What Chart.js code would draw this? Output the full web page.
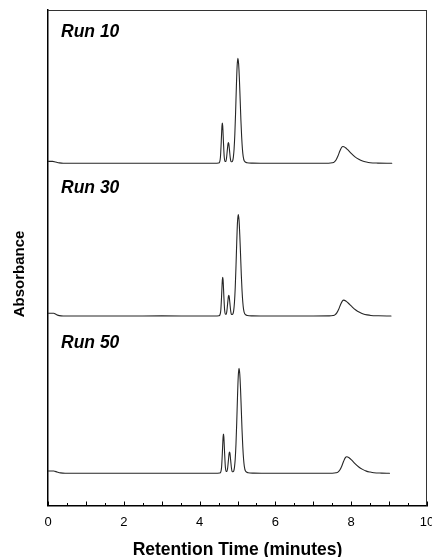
<!DOCTYPE html>
<html>
<head>
<meta charset="utf-8">
<script src="https://cdn.jsdelivr.net/npm/chart.js@4/dist/chart.umd.min.js"></script>
<style>
  html, body { margin: 0; padding: 0; background: #fff; }
  #wrap { width: 432px; height: 557px; }
</style>
</head>
<body>
<div id="wrap"><canvas id="c" width="432" height="557"></canvas></div>
<script>
// ---- data ----
const runLabels = ['Run 10', 'Run 30', 'Run 50'];
const xTickLabels = ['0', '2', '4', '6', '8', '10'];
const runBaselines = [69.06, 38.24, 6.5];   // baseline absorbance level of each stacked trace (arb. units)

const run10Times = [0, 0.12, 0.2, 0.3, 0.4, 1, 2, 3, 4, 4.4, 4.5, 4.53, 4.55, 4.57, 4.59, 4.60, 4.61, 4.63, 4.65, 4.67, 4.69, 4.71, 4.73, 4.75, 4.76, 4.77, 4.79, 4.81, 4.83, 4.85, 4.87, 4.89, 4.91, 4.93, 4.95, 4.97, 4.99, 5.01, 5.03, 5.05, 5.07, 5.09, 5.11, 5.13, 5.15, 5.18, 5.25, 5.4, 5.6, 6, 7, 7.4, 7.5, 7.55, 7.6, 7.65, 7.7, 7.75, 7.78, 7.85, 7.9, 8.0, 8.1, 8.2, 8.3, 8.4, 8.5, 8.7, 9.07];
const run10Values = [0.4, 0.4, 0.25, 0.08, 0, 0, 0.02, 0, 0, 0, 0.05, 0.3, 1.27, 4.16, 7.52, 8.1, 7.52, 4.16, 1.27, 0.4, 0.35, 1.05, 2.55, 3.97, 4.2, 3.97, 2.55, 1.05, 0.35, 0.3, 0.45, 1.19, 2.87, 5.9, 10.3, 15.4, 19.6, 21.2, 20.05, 17.0, 12.9, 8.7, 5.3, 2.87, 1.4, 0.45, 0.12, 0.03, 0, 0, 0, 0.02, 0.1, 0.24, 0.67, 1.46, 2.47, 3.25, 3.4, 3.15, 2.8, 2.0, 1.3, 0.8, 0.45, 0.25, 0.12, 0.04, 0];

const run30Times = [0, 0.15, 0.22, 0.3, 0.4, 1, 2, 3, 4, 4.4, 4.51, 4.54, 4.56, 4.58, 4.60, 4.61, 4.62, 4.64, 4.66, 4.68, 4.70, 4.72, 4.74, 4.76, 4.77, 4.78, 4.80, 4.82, 4.84, 4.86, 4.88, 4.90, 4.92, 4.94, 4.96, 4.98, 5.00, 5.02, 5.04, 5.06, 5.08, 5.10, 5.12, 5.14, 5.16, 5.19, 5.26, 5.4, 5.6, 6, 7, 7.42, 7.52, 7.57, 7.62, 7.67, 7.72, 7.77, 7.80, 7.87, 7.92, 8.02, 8.12, 8.22, 8.32, 8.42, 8.52, 8.72, 9.05];
const run30Values = [0.55, 0.55, 0.3, 0.08, 0, 0, 0, 0.02, 0, 0, 0.05, 0.3, 1.22, 4.0, 7.24, 7.8, 7.24, 4.0, 1.22, 0.4, 0.35, 1.05, 2.55, 3.97, 4.2, 3.97, 2.55, 1.05, 0.35, 0.3, 0.45, 1.15, 2.78, 5.7, 10.0, 14.9, 19.0, 20.5, 19.4, 16.4, 12.5, 8.4, 5.1, 2.78, 1.35, 0.45, 0.12, 0.03, 0, 0, 0, 0.02, 0.1, 0.23, 0.63, 1.37, 2.32, 3.05, 3.2, 2.96, 2.63, 1.88, 1.22, 0.75, 0.42, 0.23, 0.11, 0.04, 0];

const run50Times = [0, 0.15, 0.24, 0.33, 0.45, 1, 2, 3, 4, 4.4, 4.53, 4.56, 4.58, 4.60, 4.62, 4.63, 4.64, 4.66, 4.68, 4.70, 4.72, 4.74, 4.76, 4.78, 4.79, 4.80, 4.82, 4.84, 4.86, 4.88, 4.90, 4.92, 4.94, 4.96, 4.98, 5.00, 5.02, 5.04, 5.06, 5.08, 5.10, 5.12, 5.14, 5.16, 5.18, 5.21, 5.28, 5.43, 5.63, 6, 7, 7.5, 7.6, 7.65, 7.7, 7.75, 7.8, 7.85, 7.88, 7.95, 8.0, 8.1, 8.2, 8.3, 8.4, 8.5, 8.6, 8.8, 9.01];
const run50Values = [0.45, 0.45, 0.25, 0.08, 0, 0, 0, 0, 0, 0, 0.05, 0.3, 1.24, 4.06, 7.33, 7.9, 7.33, 4.06, 1.24, 0.4, 0.35, 1.07, 2.61, 4.07, 4.3, 4.07, 2.61, 1.07, 0.35, 0.3, 0.45, 1.19, 2.87, 5.9, 10.3, 15.4, 19.6, 21.2, 20.05, 17.0, 12.9, 8.7, 5.3, 2.87, 1.4, 0.45, 0.12, 0.03, 0, 0, 0, 0.02, 0.1, 0.24, 0.66, 1.44, 2.43, 3.2, 3.35, 3.1, 2.76, 1.97, 1.28, 0.79, 0.44, 0.25, 0.12, 0.04, 0];

// ---- build ----
const FONT = '"Liberation Sans", Arial, Helvetica, sans-serif';
const runTimes = [run10Times, run30Times, run50Times];
const runValues = [run10Values, run30Values, run50Values];

const datasets = runLabels.map((label, i) => {
  const n = Math.min(runTimes[i].length, runValues[i].length);
  const pts = [];
  for (let j = 0; j < n; j++) pts.push({ x: runTimes[i][j], y: runValues[i][j] + runBaselines[i] });
  return {
    label, data: pts, borderColor: '#262626', borderWidth: 1.1,
    borderJoinStyle: 'round', borderCapStyle: 'round',
    cubicInterpolationMode: 'monotone',
    pointRadius: 0, fill: false
  };
});

const decor = {
  id: 'decor',
  afterDraw(chart) {
    const { ctx, chartArea: a, scales: { x } } = chart;
    ctx.save();
    // top and right frame
    ctx.strokeStyle = '#333';
    ctx.lineWidth = 1;
    ctx.beginPath();
    ctx.moveTo(a.left, a.top + 0.5); ctx.lineTo(a.right, a.top + 0.5);
    ctx.moveTo(a.right - 0.5, a.top); ctx.lineTo(a.right - 0.5, a.bottom);
    ctx.stroke();
    // inward tick marks every half minute
    ctx.strokeStyle = '#000';
    ctx.beginPath();
    for (let k = 0; k <= 20; k++) {
      const v = k / 2;
      const px = Math.round(x.getPixelForValue(v)) + 0.5;
      const len = (k % 2 === 0) ? 4 : 2.5;
      ctx.moveTo(px, a.bottom); ctx.lineTo(px, a.bottom - len);
    }
    ctx.stroke();
    // run labels
    ctx.fillStyle = '#000';
    ctx.font = 'italic bold 17.5px ' + FONT;
    ctx.textAlign = 'left';
    ctx.textBaseline = 'alphabetic';
    runLabels.forEach((t, i) => ctx.fillText(t, a.left + 13, a.top + 27 + i * 155.5));
    // y-axis title
    ctx.translate(20, 274);
    ctx.rotate(-Math.PI / 2);
    ctx.font = 'bold 15px ' + FONT;
    ctx.textAlign = 'center';
    ctx.textBaseline = 'middle';
    ctx.fillText('Absorbance', 0, 0);
    ctx.restore();
  }
};

new Chart(document.getElementById('c'), {
  type: 'line',
  data: { datasets },
  options: {
    responsive: false,
    animation: false,
    devicePixelRatio: 1,
    layout: { padding: { left: 48, top: 10, right: 5, bottom: 0 } },
    plugins: { legend: { display: false }, tooltip: { enabled: false } },
    scales: {
      x: {
        type: 'linear', min: 0, max: 10,
        grid: { display: false, drawTicks: false },
        border: { display: true, color: '#000', width: 1.5 },
        ticks: {
          stepSize: 2, autoSkip: false, maxRotation: 0, padding: 9,
          color: '#000', font: { family: FONT, size: 13 },
          callback: (v) => xTickLabels[Math.round(v / 2)] ?? ''
        },
        title: {
          display: true, text: 'Retention Time (minutes)', color: '#000',
          font: { family: FONT, size: 17.5, weight: 'bold' },
          padding: { top: 0, bottom: -4 }
        },
        afterFit: (s) => { s.paddingRight = 5; s.height = 51.5; }
      },
      y: {
        min: 0, max: 100,
        ticks: { display: false },
        grid: { display: false, drawTicks: false },
        border: { display: true, color: '#000', width: 1.5 }
      }
    }
  },
  plugins: [decor]
});
</script>
</body>
</html>
